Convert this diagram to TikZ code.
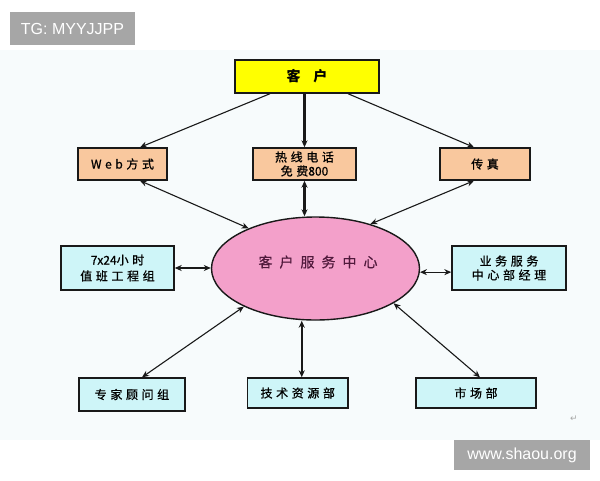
\documentclass[tikz,border=0pt]{standalone}
\usepackage{fontspec}
\usetikzlibrary{shapes.geometric,arrows.meta,calc}
\newfontfamily\cjkA[LetterSpace=30,FakeBold=0.8]{Noto Sans CJK SC}
\newfontfamily\cjkN[FakeBold=0.8]{Noto Sans CJK SC}
\newfontfamily\cjkB[LetterSpace=50,FakeBold=0.6]{Noto Sans CJK SC}
\newfontfamily\cjkC[LetterSpace=90]{Noto Sans CJK SC}
\newfontfamily\wmfont{Liberation Sans}
\newfontfamily\symfont{DejaVu Sans}
\definecolor{bglight}{RGB}{247,251,252}
\definecolor{yel}{RGB}{255,255,0}
\definecolor{peach}{RGB}{249,200,158}
\definecolor{cyanbox}{RGB}{206,245,248}
\definecolor{pinkell}{RGB}{243,160,202}
\definecolor{elltext}{RGB}{80,25,60}
\definecolor{wmgray}{RGB}{166,166,166}
\definecolor{linecol}{RGB}{25,25,25}
\begin{document}
\begin{tikzpicture}[x=1pt,y=-1pt,
  box/.style={draw=linecol,line width=1.4pt,inner sep=0pt,align=center,
    font=\cjkA\fontsize{12}{14}\selectfont},
  pbox/.style={box,fill=peach},
  cbox/.style={box,fill=cyanbox},
  thin/.style={draw=linecol,line width=1.1pt},
  thick/.style={draw=linecol,line width=2.4pt},
  tip/.style={-{Stealth[length=7pt,width=6pt]}},
  both/.style={{Stealth[length=7pt,width=6pt]}-{Stealth[length=7pt,width=6pt]}},
  wm/.style={fill=wmgray,text=white,inner sep=0pt,font=\wmfont\fontsize{16}{18}\selectfont}
]
\useasboundingbox (0,0) rectangle (600,480);
\fill[white] (0,0) rectangle (600,480);
\fill[bglight] (0,50) rectangle (600,440);

% nodes
\node[box,fill=yel,minimum width=144pt,minimum height=33pt,font=\cjkC\bfseries\fontsize{14}{16}\selectfont] (kehu) at (307,76.5) {客户};
\node[pbox,minimum width=89pt,minimum height=32pt] (web) at (122.5,164) {Web方式};
\node[pbox,minimum width=103pt,minimum height=32pt] (rexian) at (304.5,164) {热线电话\\免费{\cjkN 800}};
\node[pbox,minimum width=90pt,minimum height=32pt] (chuanzhen) at (485,164) {传真};
\node[ellipse,draw=linecol,line width=1.4pt,fill=pinkell,minimum width=208pt,minimum height=103pt,inner sep=0pt] (ell) at (315.5,268.5) {};
\node[text=elltext,font=\cjkB\fontsize{14}{16}\selectfont] (elltxt) at (318,262) {客户服务中心};
\node[cbox,minimum width=113pt,minimum height=44pt,font=\cjkA\fontsize{12}{16}\selectfont] (duty) at (117.5,268) {{\cjkN 7x24}小时\\值班工程组};
\node[cbox,minimum width=114pt,minimum height=44pt] (yewu) at (509,268) {业务服务\\中心部经理};
\node[cbox,minimum width=106pt,minimum height=33pt] (zhuanjia) at (132,394.5) {专家顾问组};
\node[cbox,minimum width=100.5pt,minimum height=30pt] (jishu) at (297.75,393) {技术资源部};
\node[cbox,minimum width=120pt,minimum height=30pt] (shichang) at (476,393) {市场部};

% connectors from customer
\draw[thin,tip] ([xshift=-37pt]kehu.south) -- ([xshift=17.5pt]web.north);
\draw[thick,tip] (kehu.south -| rexian.north) -- (rexian.north);
\draw[thin,tip] ([xshift=41pt]kehu.south) -- ([xshift=-11pt]chuanzhen.north);

% to the centre
\draw[thin,both] ([xshift=17.5pt]web.south) -- (ell.149);
\draw[thick,both] (rexian.south) -- (ell.north -| rexian.south);
\draw[thin,both] ([xshift=-11pt]chuanzhen.south) -- (ell.39);
\draw[thin,both] (duty.east) -- (duty.east -| ell.west);
\draw[thin,both] (ell.-2.5) -- (ell.-2.5 -| yewu.west);
\draw[thin,both] (ell.208) -- ([xshift=10pt]zhuanjia.north);
\coordinate (jtop) at ([xshift=4pt]jishu.north);
\draw[thick,both] (jtop |- ell.south) -- (jtop);
\draw[thin,both] (ell.-24) -- ([xshift=4pt]shichang.north);

% return mark
\node[text=gray!70,font=\symfont\fontsize{9}{10}\selectfont] (ret) at (574,419) {↵};

% watermarks
\node[wm,minimum width=125pt,minimum height=33pt] (wm1) at (72.5,28.5) {TG: MYYJJPP};
\node[wm,minimum width=136pt,minimum height=30pt] (wm2) at (522,455) {www.shaou.org};
\end{tikzpicture}
\end{document}
